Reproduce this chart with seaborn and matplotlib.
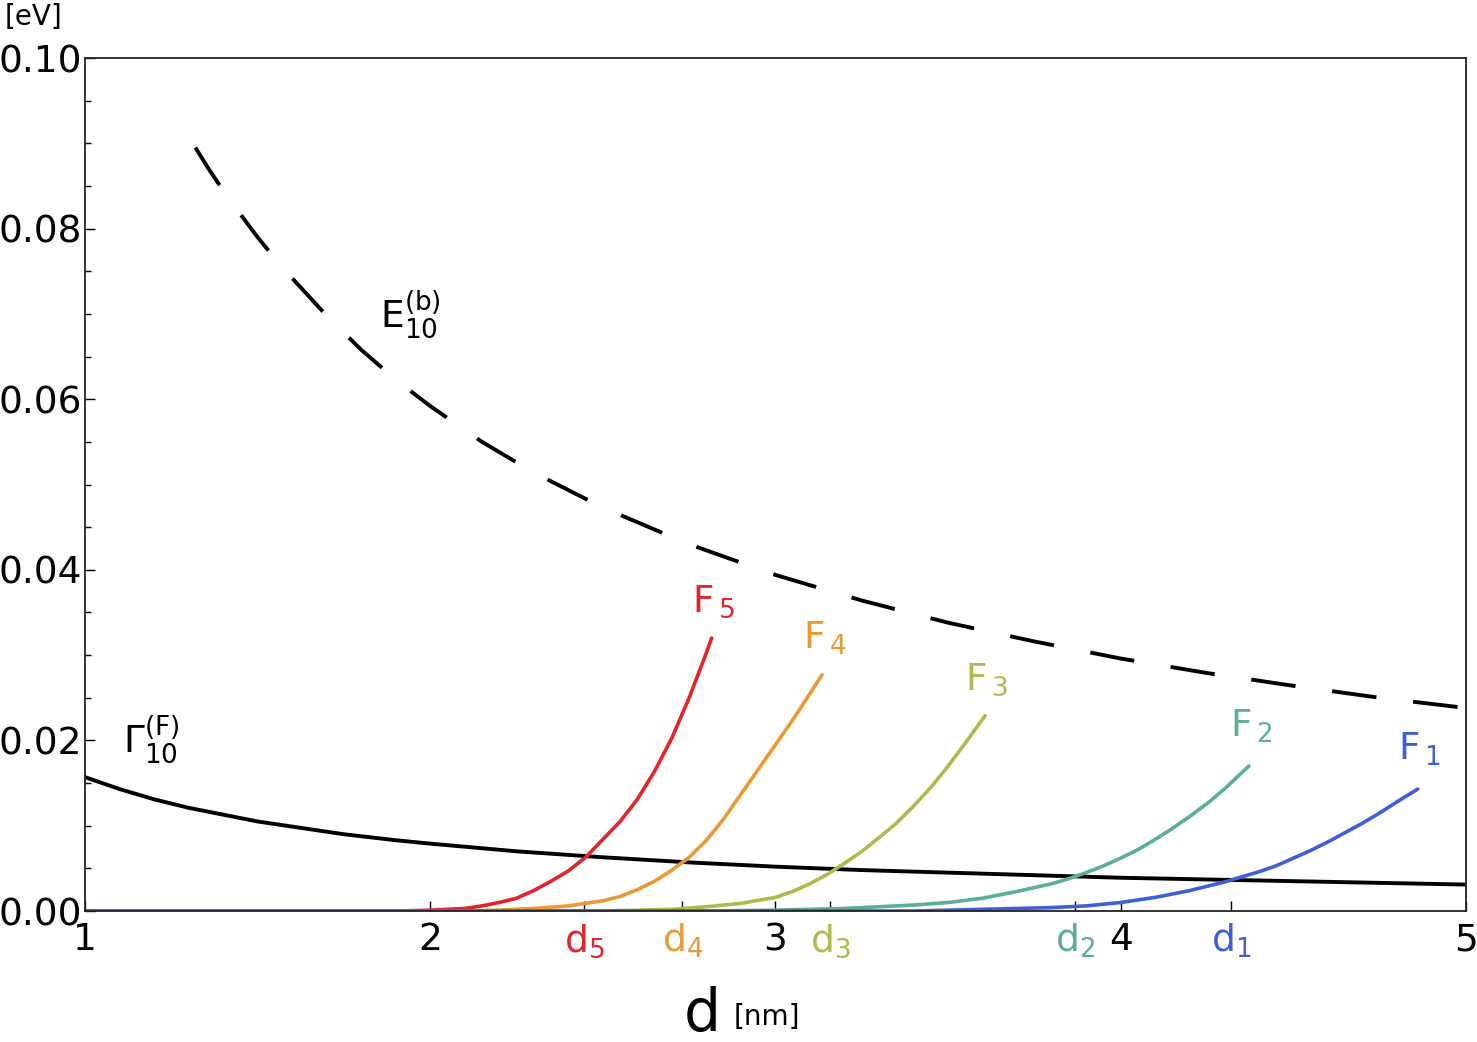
import numpy as np
import matplotlib
matplotlib.use('Agg')
import matplotlib.pyplot as plt
from matplotlib.ticker import MultipleLocator
import seaborn as sns

# E10^(b), dashed curve
d_E = [1.32, 1.36, 1.4, 1.45, 1.5, 1.55, 1.6, 1.7, 1.8, 1.9, 2.0, 2.15, 2.3, 2.5, 2.75,
       3.0, 3.25, 3.5, 3.75, 4.0, 4.25, 4.5, 4.75, 5.0]
E_b = [0.0895, 0.0869, 0.0845, 0.0817, 0.0790, 0.0765, 0.0742, 0.0698, 0.0658, 0.0623,
       0.0592, 0.0550, 0.0514, 0.0473, 0.0430, 0.0394, 0.0364, 0.0338, 0.0316, 0.0296,
       0.0279, 0.0264, 0.0250, 0.0238]

# Gamma10^(F), solid black
d_G = [1.0, 1.05, 1.1, 1.15, 1.2, 1.3, 1.4, 1.5, 1.6, 1.75, 1.9, 2.0, 2.25, 2.5, 2.75,
       3.0, 3.25, 3.5, 3.75, 4.0, 4.25, 4.5, 4.75, 5.0]
G_F = [0.0157, 0.0150, 0.0143, 0.0137, 0.0131, 0.0121, 0.0113, 0.0105, 0.0099, 0.0090,
       0.0083, 0.0079, 0.0070, 0.0063, 0.0057, 0.0052, 0.0048, 0.0045, 0.0042, 0.0039,
       0.0037, 0.0035, 0.0033, 0.0031]

# F_i curves
d_F5 = [1.0, 1.9, 2.0, 2.05, 2.1, 2.15, 2.2, 2.25, 2.3, 2.35, 2.4, 2.45, 2.5, 2.55, 2.6,
        2.65, 2.7, 2.75, 2.8, 2.815]
F5 = [0.0, 0.0, 0.0001, 0.0002, 0.0003, 0.0006, 0.0010, 0.0015, 0.0024, 0.0035, 0.0047,
      0.0063, 0.0084, 0.0105, 0.0131, 0.0164, 0.0203, 0.0250, 0.0303, 0.0320]

d_F4 = [1.0, 2.1, 2.2, 2.3, 2.4, 2.5, 2.55, 2.6, 2.65, 2.7, 2.75, 2.8, 2.85, 2.9, 2.95,
        3.0, 3.05, 3.1, 3.135]
F4 = [0.0, 0.0, 0.0001, 0.0003, 0.0006, 0.0012, 0.0017, 0.0025, 0.0035, 0.0048, 0.0063,
      0.0083, 0.0108, 0.0137, 0.0166, 0.0195, 0.0224, 0.0255, 0.0277]

d_F3 = [1.0, 2.5, 2.6, 2.7, 2.8, 2.9, 3.0, 3.05, 3.1, 3.15, 3.2, 3.25, 3.3, 3.35, 3.4,
        3.45, 3.5, 3.55, 3.607]
F3 = [0.0, 0.0, 0.0001, 0.0002, 0.0005, 0.0009, 0.0016, 0.0023, 0.0032, 0.0043, 0.0056,
      0.0070, 0.0086, 0.0103, 0.0123, 0.0145, 0.0170, 0.0197, 0.0229]

d_F2 = [1.0, 2.8, 3.0, 3.2, 3.4, 3.5, 3.6, 3.7, 3.8, 3.85, 3.9, 3.95, 4.0, 4.05, 4.1,
        4.15, 4.2, 4.25, 4.3, 4.371]
F2 = [0.0, 0.0, 0.0001, 0.0003, 0.0007, 0.0010, 0.0015, 0.0023, 0.0032, 0.0038, 0.0045,
      0.0053, 0.0062, 0.0072, 0.0084, 0.0097, 0.0111, 0.0126, 0.0143, 0.0170]

d_F1 = [1.0, 3.4, 3.6, 3.8, 3.9, 4.0, 4.1, 4.2, 4.3, 4.35, 4.4, 4.45, 4.5, 4.55, 4.6,
        4.65, 4.7, 4.75, 4.8, 4.86]
F1 = [0.0, 0.0, 0.0002, 0.0004, 0.0006, 0.0010, 0.0016, 0.0024, 0.0034, 0.0040, 0.0046,
      0.0053, 0.0062, 0.0071, 0.0081, 0.0092, 0.0103, 0.0115, 0.0128, 0.0143]

# crossing points used as tick labels
d_cross = [2.445, 2.73, 3.158, 3.868, 4.32]
cross_names = ['5', '4', '3', '2', '1']

colors = {'5': '#e3242b', '4': '#e99a35', '3': '#a7bd4d', '2': '#5aaf95', '1': '#3f5fd6'}

sns.set_style('ticks')
plt.rcParams['font.family'] = ['DejaVu Sans']
plt.rcParams['mathtext.default'] = 'regular'
plt.rcParams['text.color'] = 'black'
plt.rcParams['xtick.color'] = 'black'
plt.rcParams['ytick.color'] = 'black'
plt.rcParams['axes.labelcolor'] = 'black'

fig = plt.figure(figsize=(14.77, 10.42), dpi=100)
ax = fig.add_axes([0.0575, 0.1257, 0.9351, 0.8186])

sns.lineplot(x=d_E, y=E_b, ax=ax, color='black', lw=2.8, linestyle=(0, (11.5, 9.5)))
sns.lineplot(x=d_G, y=G_F, ax=ax, color='black', lw=2.8)
for name, xs, ys in [('5', d_F5, F5), ('4', d_F4, F4), ('3', d_F3, F3),
                     ('2', d_F2, F2), ('1', d_F1, F1)]:
    sns.lineplot(x=xs, y=ys, ax=ax, color=colors[name], lw=2.6)

ax.set_xlim(1, 5)
ax.set_ylim(0, 0.1)

# ticks
xt = [1, 2, 3, 4, 5] + d_cross
xl = ['1', '2', '3', '4', '5'] + ['d$_{%s}$' % n for n in cross_names]
ax.set_xticks(xt)
ax.set_xticklabels(xl)
for lab, n in zip(ax.get_xticklabels()[5:], cross_names):
    lab.set_color(colors[n])
ax.set_yticks([0, 0.02, 0.04, 0.06, 0.08, 0.10])
ax.set_yticklabels(['0.00', '0.02', '0.04', '0.06', '0.08', '0.10'])
ax.yaxis.set_minor_locator(MultipleLocator(0.005))
ax.tick_params(axis='both', which='major', direction='in', labelsize=27, length=7, width=1,
               top=False, right=False)
ax.tick_params(axis='y', which='major', pad=2)
ax.tick_params(axis='x', which='major', pad=8)
ax.tick_params(axis='y', which='minor', direction='in', length=4, width=1)
for s in ax.spines.values():
    s.set_linewidth(1.3)
    s.set_color('#222222')

# curve labels
ax.text(1.855, 0.0683, r'$E_{10}^{(b)}$', fontsize=27, ha='left', va='baseline')
ax.text(1.11, 0.0185, r'$\Gamma_{10}^{(F)}$', fontsize=27, ha='left', va='baseline')
label_pos = {'5': (2.758, 0.0351), '4': (3.08, 0.0308), '3': (3.549, 0.0260),
             '2': (4.316, 0.0204), '1': (4.803, 0.0177)}
for n, (x, y) in label_pos.items():
    ax.text(x, y, r'$F_{\,%s}$' % n, fontsize=27, color=colors[n], ha='left', va='baseline')

fig.text(0.003, 0.997, '[eV]', fontsize=20, ha='left', va='top')
fig.text(0.463, 0.011, 'd', fontsize=42, ha='left', va='baseline')
fig.text(0.497, 0.016, '[nm]', fontsize=20, ha='left', va='baseline')

fig.savefig('out.png', dpi=100)
